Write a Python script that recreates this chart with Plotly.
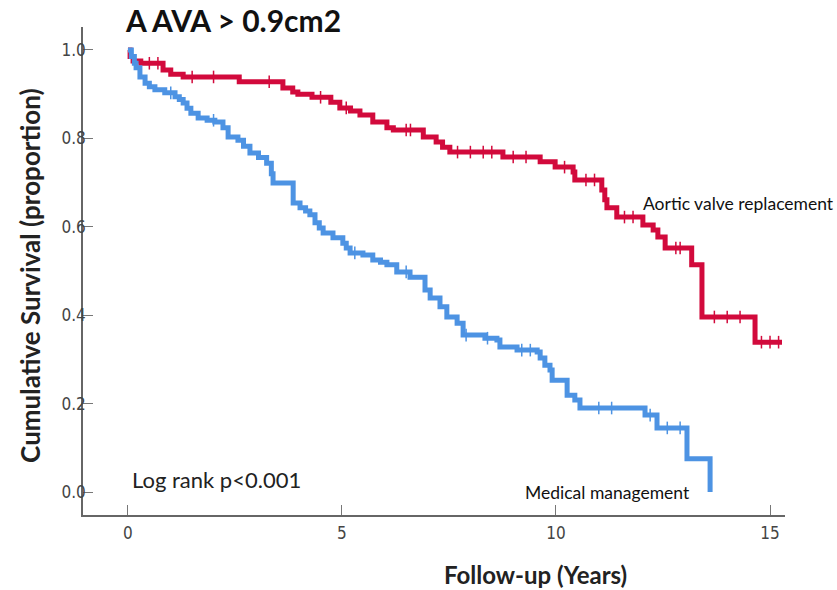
import plotly.graph_objects as go

# ---- data ----
avr_time = [0, 0.05, 0.12, 0.3, 0.82, 1.0, 1.29, 2.6, 3.62, 3.85, 3.97, 4.3, 4.74, 4.95,
            5.2, 5.42, 5.72, 6.05, 6.2, 6.9, 7.2, 7.35, 7.52, 8.76, 9.63, 9.98, 10.4,
            10.44, 11.07, 11.14, 11.19, 11.42, 12.03, 12.27, 12.38, 12.55, 13.17, 13.41,
            14.65, 15.28]
avr_surv = [1.0, 0.985, 0.975, 0.970, 0.955, 0.945, 0.939, 0.928, 0.914, 0.905, 0.900,
            0.893, 0.882, 0.869, 0.862, 0.853, 0.837, 0.824, 0.819, 0.803, 0.792, 0.780,
            0.769, 0.758, 0.747, 0.735, 0.724, 0.706, 0.683, 0.661, 0.643, 0.622, 0.604,
            0.593, 0.577, 0.552, 0.514, 0.396, 0.339, 0.339]

med_time = [0, 0.08, 0.15, 0.19, 0.28, 0.4, 0.5, 0.63, 0.86, 1.1, 1.2, 1.29, 1.38, 1.47,
            1.64, 1.85, 2.03, 2.22, 2.34, 2.57, 2.7, 2.85, 3.05, 3.24, 3.35, 3.39, 3.86,
            4.02, 4.15, 4.25, 4.37, 4.47, 4.56, 4.79, 5.02, 5.1, 5.19, 5.49, 5.72, 5.9,
            6.05, 6.28, 6.59, 6.94, 7.06, 7.29, 7.45, 7.69, 7.83, 8.34, 8.62, 8.69, 9.09,
            9.56, 9.63, 9.74, 9.86, 9.91, 10.26, 10.44, 10.56, 12.08, 12.36, 13.06, 13.6]
med_surv = [1.0, 0.985, 0.970, 0.960, 0.939, 0.925, 0.917, 0.910, 0.903, 0.894, 0.888,
            0.880, 0.868, 0.857, 0.846, 0.841, 0.837, 0.824, 0.803, 0.796, 0.782, 0.767,
            0.757, 0.744, 0.720, 0.699, 0.654, 0.643, 0.636, 0.627, 0.609, 0.597, 0.586,
            0.575, 0.563, 0.552, 0.541, 0.536, 0.525, 0.520, 0.514, 0.498, 0.486, 0.457,
            0.439, 0.419, 0.396, 0.382, 0.355, 0.348, 0.344, 0.328, 0.321, 0.317, 0.303,
            0.287, 0.276, 0.253, 0.219, 0.208, 0.190, 0.174, 0.145, 0.075, 0.0]

avr_censor = [0.5, 0.7, 1.5, 2.0, 3.3, 4.5, 5.1, 6.5, 6.6, 7.7, 8.0, 8.3, 8.5, 9.0, 9.3,
              10.2, 10.7, 10.9, 11.6, 11.8, 12.8, 12.9, 13.7, 14.0, 14.3, 14.8, 15.0, 15.2]
med_censor = [1.0, 2.0, 5.3, 6.5, 7.9, 8.4, 9.2, 9.4, 11.0, 11.3, 12.2, 12.6, 12.9]

x_ticks = [0, 5, 10, 15]
y_ticks = [0.0, 0.2, 0.4, 0.6, 0.8, 1.0]

RED = "#D20A3C"
BLUE = "#4D93E3"


def step_value(times, surv, t):
    v = surv[0]
    for ti, si in zip(times, surv):
        if ti <= t:
            v = si
        else:
            break
    return v


fig = go.Figure()
fig.add_trace(go.Scatter(x=avr_time, y=avr_surv, mode="lines", line_shape="hv",
                         line=dict(color=RED, width=5), showlegend=False))
fig.add_trace(go.Scatter(x=med_time, y=med_surv, mode="lines", line_shape="hv",
                         line=dict(color=BLUE, width=5), showlegend=False))
fig.add_trace(go.Scatter(x=avr_censor, y=[step_value(avr_time, avr_surv, t) for t in avr_censor],
                         mode="markers", marker=dict(symbol="line-ns", size=9,
                         line=dict(color=RED, width=1.5)), showlegend=False))
fig.add_trace(go.Scatter(x=med_censor, y=[step_value(med_time, med_surv, t) for t in med_censor],
                         mode="markers", marker=dict(symbol="line-ns", size=9,
                         line=dict(color=BLUE, width=1.5)), showlegend=False))

tick_font = dict(family="Liberation Sans Narrow, DejaVu Sans Condensed, Arial Narrow, sans-serif",
                 size=17, color="#444444")

fig.update_xaxes(range=[-1.05, 15.35], tickvals=x_ticks, ticktext=[str(v) for v in x_ticks],
                 showgrid=False, zeroline=False, showline=True, linecolor="#666666",
                 linewidth=1.5, ticks="inside", ticklen=10, tickcolor="#777777",
                 tickwidth=1, tickfont=tick_font, ticklabelstandoff=2)
fig.update_yaxes(range=[-0.052, 1.052], tickvals=y_ticks,
                 ticktext=[f"{v:.1f}" for v in y_ticks],
                 showgrid=False, zeroline=False, showline=True, linecolor="#666666",
                 linewidth=1.5, ticks="inside", ticklen=10, tickcolor="#777777",
                 tickwidth=1, tickfont=tick_font, ticklabelstandoff=-8)

ann_font = "Lato, Open Sans, sans-serif"
annotations = [
    dict(text="<b>A AVA &gt; 0.9cm2</b>", x=0.057, y=1.014, xanchor="left", yanchor="middle",
         font=dict(family=ann_font, size=30, color="#111111")),
    dict(text="<b>Cumulative Survival (proportion)</b>", x=-0.0755, y=0.49, textangle=-90,
         xanchor="center", yanchor="middle",
         font=dict(family=ann_font, size=26, color="#222222")),
    dict(text="<b>Follow-up (Years)</b>", x=0.644, y=-0.121, xanchor="center", yanchor="middle",
         font=dict(family=ann_font, size=24, color="#222222")),
    dict(text="Aortic valve replacement", x=0.795, y=0.639, xanchor="left", yanchor="middle",
         font=dict(family=ann_font, size=17.5, color="#111111")),
    dict(text="Medical management", x=0.627, y=0.047, xanchor="left", yanchor="middle",
         font=dict(family=ann_font, size=17.5, color="#111111")),
    dict(text="Log rank p&lt;0.001", x=0.067, y=0.072, xanchor="left", yanchor="middle",
         font=dict(family=ann_font, size=22, color="#222222")),
]
for a in annotations:
    a.update(xref="paper", yref="paper", showarrow=False)

fig.update_layout(width=837, height=590, margin=dict(l=83, r=52, t=27, b=75),
                  paper_bgcolor="white", plot_bgcolor="white", annotations=annotations)

fig.write_html("out.html")
